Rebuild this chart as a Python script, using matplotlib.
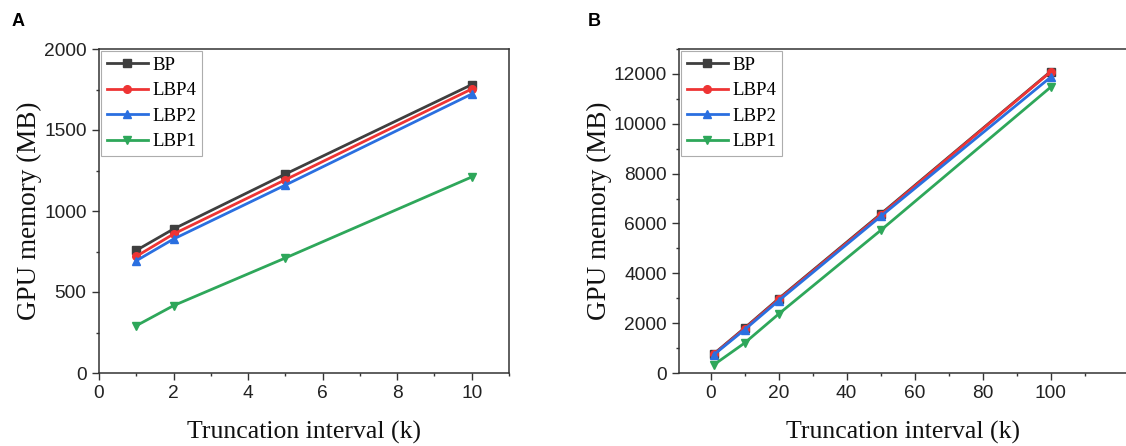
import matplotlib
matplotlib.use("Agg")
import matplotlib.pyplot as plt
from matplotlib.ticker import MultipleLocator, FixedLocator

# ---- data ----
series_names = ["BP", "LBP4", "LBP2", "LBP1"]

xa = [1, 2, 5, 10]
a_bp = [757, 889, 1228, 1780]
a_lbp4 = [720, 858, 1193, 1753]
a_lbp2 = [693, 827, 1160, 1722]
a_lbp1 = [292, 416, 710, 1210]

xb = [1, 10, 20, 50, 100]
b_bp = [775, 1804, 2980, 6374, 12094]
b_lbp4 = [760, 1780, 2950, 6340, 12080]
b_lbp2 = [740, 1737, 2900, 6280, 11866]
b_lbp1 = [334, 1203, 2365, 5720, 11465]

b_xticks = [0, 20, 40, 60, 80, 100]
b_xminor = [10, 30, 50, 70, 90, 110]

colors = ["#3f3f3f", "#ee3434", "#2a6fe0", "#2ea75a"]
markers = ["s", "o", "^", "v"]

serif = ["Liberation Serif", "DejaVu Serif"]
sans = ["Liberation Sans", "DejaVu Sans"]

fig = plt.figure(figsize=(11.26, 4.46), dpi=100)
W, H = 1126, 446

def px_axes(l, r, t, b):
    return fig.add_axes([l / W, (H - b) / H, (r - l) / W, (b - t) / H])

axA = px_axes(99, 509, 49, 373)
axB = px_axes(679, 1126, 49, 373)

def style(ax, xlabel, ylabel):
    for s in ax.spines.values():
        s.set_color("#333333")
        s.set_linewidth(1.1)
    ax.tick_params(which="major", direction="out", length=5, width=1.0,
                   colors="#333333", labelsize=13.8, pad=4)
    ax.tick_params(which="minor", direction="out", length=2.5, width=1.0,
                   colors="#333333")
    for lab in ax.get_xticklabels() + ax.get_yticklabels():
        lab.set_fontfamily(sans)
        lab.set_color("#222222")
    ax.set_xlabel(xlabel, fontfamily=serif, fontsize=18.5, labelpad=13, color="#111111")
    ax.set_ylabel(ylabel, fontfamily=serif, fontsize=19.5, labelpad=1, color="#111111")

def draw(ax, x, ys):
    for name, y, c, m in zip(series_names, ys, colors, markers):
        ax.plot(x, y, color=c, marker=m, markersize=5.5, linewidth=2, label=name)
    leg = ax.legend(loc="upper left", prop={"family": serif, "size": 13.5},
                    frameon=True, fancybox=False, edgecolor="#999999",
                    borderaxespad=0.1, handlelength=2.2, labelspacing=0.45,
                    handletextpad=0.25, borderpad=0.3)
    leg.get_frame().set_linewidth(0.8)

# Panel A
draw(axA, xa, [a_bp, a_lbp4, a_lbp2, a_lbp1])
axA.set_xlim(0, 11)
axA.set_ylim(0, 2000)
axA.xaxis.set_major_locator(MultipleLocator(2))
axA.xaxis.set_minor_locator(MultipleLocator(1))
axA.yaxis.set_major_locator(MultipleLocator(500))
axA.yaxis.set_minor_locator(MultipleLocator(250))
style(axA, "Truncation interval (k)", "GPU memory (MB)")

# Panel B
draw(axB, xb, [b_bp, b_lbp4, b_lbp2, b_lbp1])
axB.set_xlim(-9.3, 122.2)
axB.set_ylim(0, 13000)
axB.xaxis.set_major_locator(FixedLocator(b_xticks))
axB.xaxis.set_minor_locator(FixedLocator(b_xminor))
axB.yaxis.set_major_locator(MultipleLocator(2000))
axB.yaxis.set_minor_locator(MultipleLocator(1000))
axB.spines["right"].set_visible(False)
style(axB, "Truncation interval (k)", "GPU memory (MB)")

fig.text(12 / W, 1 - 26 / H, "A", fontfamily=sans, fontweight="bold", fontsize=13)
fig.text(588 / W, 1 - 26 / H, "B", fontfamily=sans, fontweight="bold", fontsize=13)

fig.savefig("out.png", dpi=100)
